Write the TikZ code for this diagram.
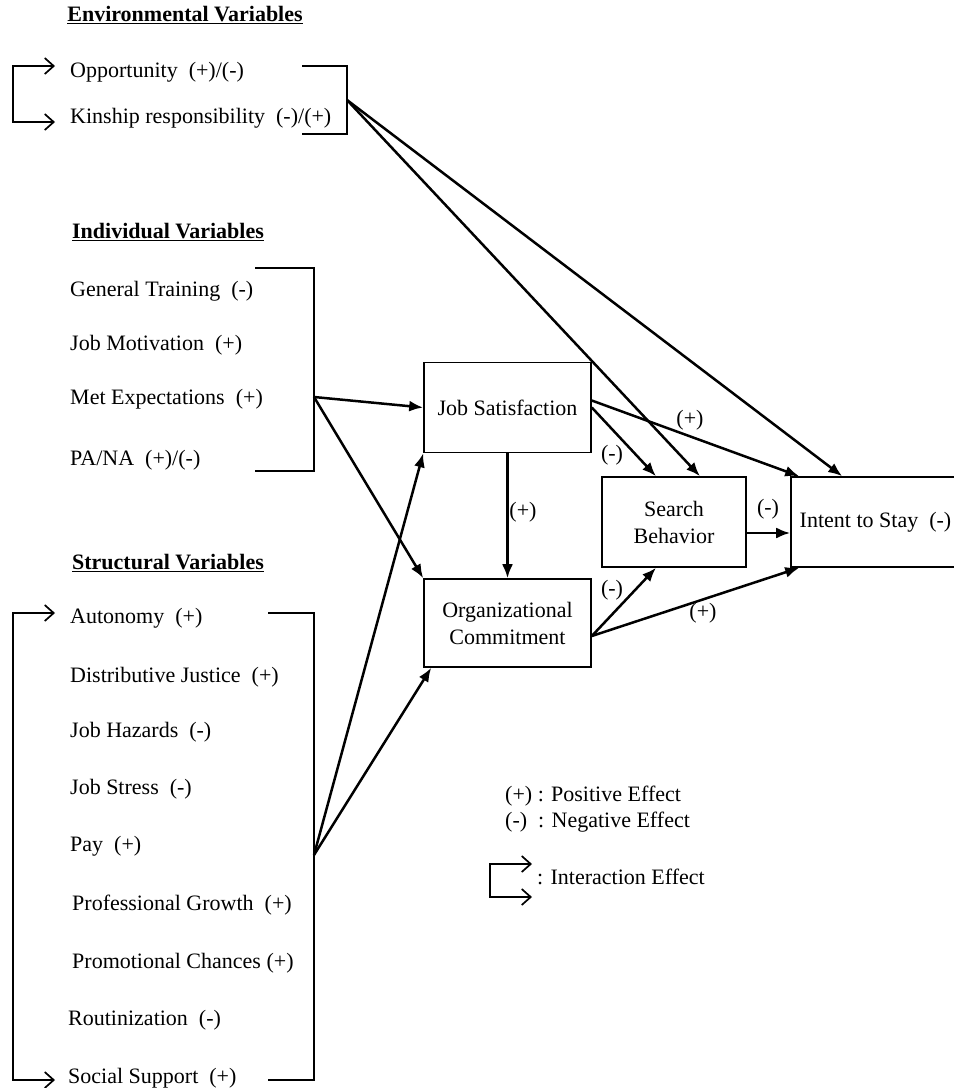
\documentclass[tikz,border=0pt]{standalone}
\usepackage{fontspec}
\setmainfont{Liberation Serif}
\usetikzlibrary{arrows.meta, positioning}
\newcommand{\diagfont}{\fontsize{22}{27}\selectfont}
\tikzstyle{varbox} = [rectangle, draw=black, line width=1.6pt, minimum width=167pt, minimum height=90pt, align=center, inner sep=0pt]
\tikzstyle{item} = [anchor=west, inner sep=0pt]
\tikzstyle{heading} = [inner sep=0pt, font=\diagfont\bfseries]
\tikzstyle{sign} = [inner sep=0pt]
\tikzstyle{arrow} = [line width=2.5pt, -{Latex[length=14pt,width=11pt]}]
\tikzstyle{bracket} = [line width=1.7pt]
\tikzstyle{inter} = [line width=1.7pt, -{Straight Barb[length=9pt,width=16pt,line width=1.7pt]}]

\begin{document}
\begin{tikzpicture}[x=1pt, y=-1pt, font=\diagfont]
	\useasboundingbox (0,0) rectangle (954,1088);

	% Environmental variables
	\node (envhead) [heading] at (185,15) {\underline{Environmental Variables}};
	\node (opp) [item] at (70,72) {Opportunity~ (+)/(-)};
	\node (kin) [item] at (70,118) {Kinship responsibility~ (-)/(+)};
	\draw [inter] (13,94) |- (55,66);
	\draw [inter] (13,94) |- (55,122);
	\draw [bracket] (302,66) -| (347,134) -- (302,134);
	\coordinate (envsrc) at (347,100);

	% Individual variables
	\node (indhead) [heading] at (168,232) {\underline{Individual Variables}};
	\node (gt) [item] at (70,291) {General Training~ (-)};
	\node (jm) [item] at (70,345) {Job Motivation~ (+)};
	\node (me) [item] at (70,399) {Met Expectations~ (+)};
	\node (pana) [item] at (70,460) {PA/NA~ (+)/(-)};
	\draw [bracket] (255,268) -| (314,471) -- (255,471);
	\coordinate (indsrc) at (314,397);

	% Structural variables
	\node (strhead) [heading] at (168,563) {\underline{Structural Variables}};
	\node (aut) [item] at (70,618) {Autonomy~ (+)};
	\node (dj) [item] at (70,677) {Distributive Justice~ (+)};
	\node (jh) [item] at (70,732) {Job Hazards~ (-)};
	\node (js2) [item] at (70,789) {Job Stress~ (-)};
	\node (pay) [item] at (70,846) {Pay~ (+)};
	\node (pg) [item] at (72,905) {Professional Growth~ (+)};
	\node (pc) [item] at (72,963) {Promotional Chances (+)};
	\node (rout) [item] at (68,1020) {Routinization~ (-)};
	\node (ss) [item] at (68,1078) {Social Support~ (+)};
	\draw [inter] (13,846) |- (55,613);
	\draw [inter] (13,846) |- (55,1080);
	\draw [bracket] (268,613) -| (314,1080) -- (268,1080);
	\coordinate (strsrc) at (314,855);

	% Outcome boxes
	\node (js) [varbox] at (507.5,407.5) {Job Satisfaction};
	\node (oc) [varbox, minimum height=88pt] at (507.5,623) {Organizational\\Commitment};
	\node (sb) [varbox, minimum width=144pt] at (674,522) {Search\\Behavior};
	\node (is) [varbox, minimum width=169pt] at (875.5,522) {Intent to Stay~ (-)};

	% Draw edges
	\draw [arrow] (envsrc) -- ([xshift=26pt]sb.north);
	\draw [arrow] (envsrc) -- ([xshift=52pt]is.north west);
	\draw [arrow] (indsrc) -- (js.west);
	\draw [arrow] (indsrc) -- (oc.north west);
	\draw [arrow] (strsrc) -- (js.south west);
	\draw [arrow] (strsrc) -- ([xshift=8pt]oc.south west);
	\draw [arrow] (js.south) -- (oc.north);
	\draw [arrow] (js.east) -- ([xshift=-18pt]sb.north);
	\draw [arrow] ([yshift=7pt]js.east) -- ([xshift=9pt]is.north west);
	\draw [arrow] ([yshift=-13pt]oc.east) -- ([xshift=-18pt]sb.south);
	\draw [arrow] ([yshift=-13pt]oc.east) -- ([xshift=9pt]is.south west);
	\draw [arrow] ([yshift=-11pt]sb.east) -- ([yshift=-11pt]sb.east -| is.west);

	% Signs
	\node (s1) [sign] at (523,512) {(+)};
	\node (s2) [sign] at (612,455) {(-)};
	\node (s3) [sign] at (690,420) {(+)};
	\node (s4) [sign] at (612,590) {(-)};
	\node (s5) [sign] at (703,613) {(+)};
	\node (s6) [sign] at (768,509) {(-)};

	% Legend
	\node (pos) [item] at (505,796) {(+) : Positive Effect};
	\node (neg) [item] at (505,822) {(-)~ : Negative Effect};
	\draw [inter] (490,880) |- (532,864);
	\draw [inter] (490,880) |- (532,897);
	\node (ie) [item] at (537,877) {: Interaction Effect};
\end{tikzpicture}
\end{document}
